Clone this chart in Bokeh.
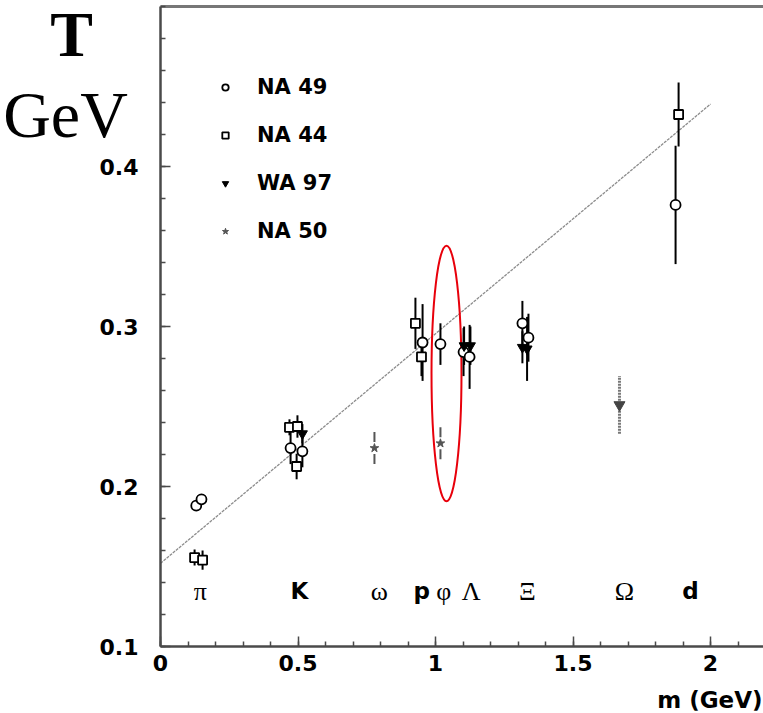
from bokeh.plotting import figure
from bokeh.models import (Legend, LegendItem, Label, LinearAxis, FixedTicker,
                          PrintfTickFormatter, Range1d)
from bokeh.core.properties import value
from bokeh.embed import file_html
from bokeh.resources import INLINE
import numpy as np

# ---------------- data ----------------
na49_m = [0.130, 0.149, 0.473, 0.516, 0.953, 1.018, 1.102, 1.124, 1.316, 1.338, 1.873]
na49_T = [0.188, 0.192, 0.224, 0.222, 0.290, 0.289, 0.284, 0.281, 0.302, 0.293, 0.376]
na49_err = [0.003, 0.003, 0.010, 0.010, 0.024, 0.013, 0.015, 0.020, 0.014, 0.015, 0.037]

na44_m = [0.124, 0.153, 0.469, 0.498, 0.495, 0.927, 0.949, 1.884]
na44_T = [0.1556, 0.154, 0.237, 0.2375, 0.2125, 0.302, 0.281, 0.4325]
na44_err = [0.005, 0.006, 0.005, 0.007, 0.008, 0.016, 0.012, 0.020]

wa97_m = [0.516, 1.104, 1.127, 1.316, 1.333, 1.669]
wa97_T = [0.233, 0.288, 0.288, 0.287, 0.286, 0.251]
wa97_err = [0.006, 0.012, 0.012, 0.010, 0.020, 0.018]
wa97_particle = ["K", "Λ", "Λ", "Ξ", "Ξ", "Ω"]

na50_m = [0.778, 1.018]
na50_T = [0.224, 0.227]
na50_err = [0.010, 0.010]

fit_m = [0.0, 2.0]
fit_T = [0.152, 0.439]

particle_names = ["π", "K", "ω", "p", "φ", "Λ", "Ξ", "Ω", "d"]
particle_label_m = [0.145, 0.505, 0.796, 0.950, 1.030, 1.130, 1.334, 1.687, 1.927]
particle_bold = ["K", "p", "d"]
label_row_T = 0.1344

ellipse_m, ellipse_T, ellipse_w, ellipse_h = 1.04, 0.2706, 0.109, 0.16

x_ticks = [0, 0.5, 1, 1.5, 2]
y_ticks = [0.1, 0.2, 0.3, 0.4]
x_axis_bounds = (0.0, 2.2)
y_axis_bounds = (0.1, 0.5)

# ---------------- figure ----------------
W, H = 763, 713
PX_X, PX_Y = 275.0, 1600.0          # pixels per data unit
LEFT, BOTTOM = 160, 67               # page offsets of the axes
x0 = -LEFT / PX_X
y0 = y_axis_bounds[0] - BOTTOM / PX_Y
p = figure(width=W, height=H, output_backend="svg", toolbar_location=None,
           x_range=Range1d(x0, x0 + W / PX_X), y_range=Range1d(y0, y0 + H / PX_Y),
           min_border=0, outline_line_color=None, x_axis_type=None, y_axis_type=None,
           background_fill_color="white", border_fill_color="white")
p.grid.visible = False

AX = "#4a4a4a"
TICKFONT = "DejaVu Sans"

xa = LinearAxis(fixed_location=y_axis_bounds[0], bounds=x_axis_bounds,
                ticker=FixedTicker(ticks=x_ticks,
                                   minor_ticks=list(np.round(np.arange(0, 2.21, 0.1), 2))),
                formatter=PrintfTickFormatter(format="%g"))
ya = LinearAxis(fixed_location=x_axis_bounds[0], bounds=y_axis_bounds,
                ticker=FixedTicker(ticks=y_ticks,
                                   minor_ticks=list(np.round(np.arange(0.1, 0.5001, 0.02), 3))),
                formatter=PrintfTickFormatter(format="%g"))
for ax in (xa, ya):
    ax.axis_line_color = AX
    ax.axis_line_width = 2.5
    ax.major_tick_line_color = AX
    ax.minor_tick_line_color = AX
    ax.major_tick_line_width = 1.5
    ax.minor_tick_line_width = 1.5
    ax.major_tick_in = 10
    ax.major_tick_out = 0
    ax.minor_tick_in = 5
    ax.minor_tick_out = 0
    ax.major_label_text_font = TICKFONT
    ax.major_label_text_font_style = "bold"
    ax.major_label_text_font_size = "22px"
    ax.major_label_text_color = "black"
xa.major_label_standoff = 8
ya.major_label_standoff = 22
p.add_layout(xa, "below")
p.add_layout(ya, "left")

top = LinearAxis(fixed_location=y_axis_bounds[1], bounds=x_axis_bounds,
                 ticker=FixedTicker(ticks=[]), axis_line_color="#777777",
                 axis_line_width=3, major_tick_line_color=None,
                 minor_tick_line_color=None, major_label_text_font_size="0px")
p.add_layout(top, "above")

# fit line
p.line(fit_m, fit_T, line_color="#8c8c8c", line_width=1.3, line_dash="3 1")

# ellipse
p.ellipse(x=ellipse_m, y=ellipse_T, width=ellipse_w, height=ellipse_h,
          fill_color=None, line_color="#e8000b", line_width=2)

# error bars
def ebar(m, T, e, **kw):
    m = np.asarray(m); T = np.asarray(T); e = np.asarray(e)
    if len(m):
        p.segment(x0=m, y0=T - e, x1=m, y1=T + e, **kw)

ebar(na49_m, na49_T, na49_err, line_color="black", line_width=2)
ebar(na44_m, na44_T, na44_err, line_color="black", line_width=2)
w_solid = [i for i, pp in enumerate(wa97_particle) if pp != "Ω"]
w_dash = [i for i, pp in enumerate(wa97_particle) if pp == "Ω"]
ebar([wa97_m[i] for i in w_solid], [wa97_T[i] for i in w_solid],
     [wa97_err[i] for i in w_solid], line_color="black", line_width=2)
ebar([wa97_m[i] for i in w_dash], [wa97_T[i] for i in w_dash],
     [wa97_err[i] for i in w_dash], line_color="#777777", line_width=3, line_dash="2 1")
ebar(na50_m, na50_T, na50_err, line_color="#555555", line_width=2, line_dash="10 12")

# markers
r49 = p.scatter(na49_m, na49_T, marker="circle", size=10, fill_color="white",
                line_color="black", line_width=1.8)
r44 = p.scatter(na44_m, na44_T, marker="square", size=9, fill_color="white",
                line_color="black", line_width=1.8)
r97 = p.scatter([wa97_m[i] for i in w_solid], [wa97_T[i] for i in w_solid],
                marker="inverted_triangle", size=10, fill_color="black",
                line_color="black")
p.scatter([wa97_m[i] for i in w_dash], [wa97_T[i] for i in w_dash],
          marker="inverted_triangle", size=11, fill_color="#444444",
          line_color="#444444")
r50 = p.scatter(na50_m, na50_T, marker="star", size=9, fill_color="#555555",
                line_color="#555555")

# particle labels
serif_idx = [i for i, n in enumerate(particle_names) if n not in particle_bold]
bold_idx = [i for i, n in enumerate(particle_names) if n in particle_bold]
p.text(x=[particle_label_m[i] for i in serif_idx], y=[label_row_T] * len(serif_idx),
       text=[particle_names[i] for i in serif_idx], text_align="center",
       text_baseline="middle", text_font=value("Liberation Serif"),
       text_font_size="26px", text_color="black")
p.text(x=[particle_label_m[i] for i in bold_idx], y=[label_row_T] * len(bold_idx),
       text=[particle_names[i] for i in bold_idx], text_align="center",
       text_baseline="middle", text_font=value(TICKFONT), text_font_style="bold",
       text_font_size="23px", text_color="black")

# legend
legend = Legend(items=[LegendItem(label="NA 49", renderers=[r49]),
                       LegendItem(label="NA 44", renderers=[r44]),
                       LegendItem(label="WA 97", renderers=[r97]),
                       LegendItem(label="NA 50", renderers=[r50])],
                location=(217, 469), padding=0, margin=0, spacing=22,
                glyph_width=16, glyph_height=16, label_height=26,
                label_standoff=24, label_text_font=TICKFONT,
                label_text_font_style="bold", label_text_font_size="21px",
                label_text_color="black",
                border_line_color=None, background_fill_alpha=0)
p.add_layout(legend)

# titles / axis label (screen coords from canvas bottom-left)
p.add_layout(Label(x=71, y=H - 34, x_units="screen", y_units="screen", text="T",
                   text_font="Liberation Serif", text_font_style="bold",
                   text_font_size="64px", text_align="center",
                   text_baseline="alphabetic", text_color="black"))
p.add_layout(Label(x=65, y=H - 114, x_units="screen", y_units="screen", text="GeV",
                   text_font="Liberation Serif", text_font_size="66px",
                   text_align="center", text_baseline="alphabetic",
                   text_color="black"))
p.add_layout(Label(x=W - 1, y=H - 699, x_units="screen", y_units="screen", text="m (GeV)",
                   text_font=TICKFONT, text_font_style="bold",
                   text_font_size="23px", text_align="right",
                   text_baseline="alphabetic", text_color="black"))

open("out.html", "w").write(file_html(p, INLINE))
